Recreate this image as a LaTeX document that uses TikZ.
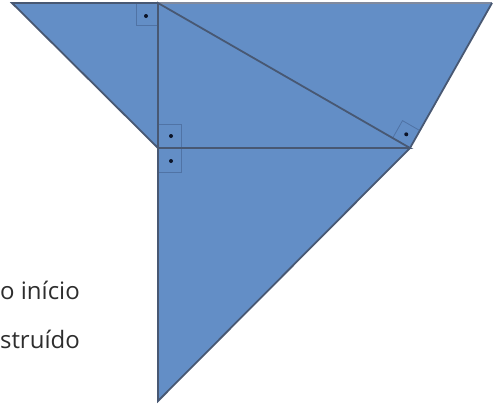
\documentclass[tikz,border=0pt]{standalone}
\usepackage{fontspec}
\setmainfont{Open Sans}
\usetikzlibrary{calc}
\definecolor{fillblue}{RGB}{99,142,198}
\definecolor{edge}{RGB}{72,88,115}
\definecolor{topedge}{RGB}{128,138,158}
\definecolor{marksq}{RGB}{80,115,165}
\definecolor{markdot}{RGB}{12,20,40}
\definecolor{txt}{RGB}{45,45,45}
\tikzset{
  edgeline/.style={draw=edge, line width=1.8pt, line join=miter},
  rightsq/.style={draw=marksq, line width=0.8pt},
  rdot/.style={fill=markdot},
  lbl/.style={anchor=base east, inner sep=0pt, text=txt, font=\fontsize{24}{28}\selectfont}
}
\begin{document}
\begin{tikzpicture}[x=1pt,y=-1pt]
\useasboundingbox (0,0) rectangle (494,405);
\begin{scope}
\clip (0,0) rectangle (494,405);
\coordinate (A) at (12,3);
\coordinate (B) at (158,3);
\coordinate (C) at (492,3);
\coordinate (D) at (158,148);
\coordinate (E) at (410,148);
\coordinate (F) at (158,401);
% filled figure
\fill[fillblue] (A) -- (C) -- (E) -- (F) -- (D) -- cycle;
% right angle squares
\draw[rightsq] (B) -- ++(-22,0) -- ++(0,22) -- ++(22,0);
\fill[rdot] (146,16) circle (2);
\draw[rightsq] (D) -- ++(0,-24) -- ++(23,0) -- ++(0,24);
\fill[rdot] (171,136) circle (2);
\draw[rightsq] (D) -- ++(0,24) -- ++(23,0) -- ++(0,-24);
\fill[rdot] (171,161) circle (2);
\coordinate (Eb) at ($(E)!20pt!(B)$);
\coordinate (Ec) at ($(E)!20pt!(C)$);
\draw[rightsq] (Eb) -- ($(Eb)+(Ec)-(E)$) -- (Ec);
\fill[rdot] ($(E)!0.5!($(Eb)+(Ec)-(E)$)$) circle (2);
% edges
\draw[draw=topedge, line width=1.8pt] (B) -- (C);
\draw[edgeline] (B) -- (A) -- (D) -- (F) -- (E) -- (C);
\draw[edgeline] (B) -- (D) -- (E) -- cycle;
% text
\node[lbl] (t1) at (80,299) {o início};
\node[lbl] (t2) at (80,348) {struído};
\end{scope}
\end{tikzpicture}
\end{document}
